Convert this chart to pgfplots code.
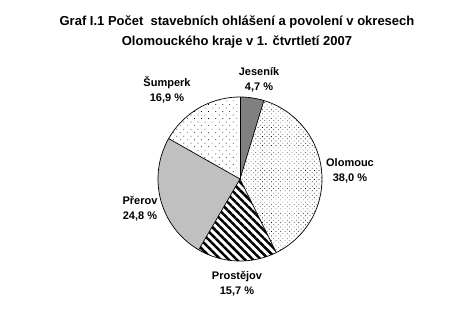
\documentclass[border=0pt]{standalone}
\usepackage{fontspec}
\setmainfont{Liberation Sans}
\usepackage{pgfplots}
\usepackage{pgfplotstable}
\pgfplotsset{compat=1.18}
\usetikzlibrary{patterns,patterns.meta}

\pgfplotstableread{
district pct
Jesenik 4.7
Olomouc 38.0
Prostejov 15.7
Prerov 24.8
Sumperk 16.9
}\piedata

\definecolor{darkg}{RGB}{128,128,128}
\definecolor{lightg}{RGB}{192,192,192}
\tikzset{lab/.style={align=center, font=\bfseries\fontsize{11}{15}\selectfont}}

\pgfplotstablegetelem{0}{pct}\of\piedata \global\let\pA\pgfplotsretval
\pgfplotstablegetelem{1}{pct}\of\piedata \global\let\pB\pgfplotsretval
\pgfplotstablegetelem{2}{pct}\of\piedata \global\let\pC\pgfplotsretval
\pgfplotstablegetelem{3}{pct}\of\piedata \global\let\pD\pgfplotsretval
\pgfplotstablegetelem{4}{pct}\of\piedata \global\let\pE\pgfplotsretval
\pgfmathsetmacro\aA{90}
\pgfmathsetmacro\aB{\aA-3.6*\pA}
\pgfmathsetmacro\aC{\aB-3.6*\pB}
\pgfmathsetmacro\aD{\aC-3.6*\pC}
\pgfmathsetmacro\aE{\aD-3.6*\pD}
\pgfmathsetmacro\aF{\aE-3.6*\pE}

\begin{document}
\begin{tikzpicture}
\begin{axis}[
  hide axis, scale only axis,
  width=473pt, height=313pt,
  xmin=0, xmax=473, ymin=0, ymax=313,
  clip=false,
]
\path[fill=white] (rel axis cs:0,0) rectangle (rel axis cs:1,1);
% slices
\fill[darkg] (axis cs:240,134) -- ++(\aA:82pt) arc[start angle=\aA, end angle=\aB, radius=82pt] -- cycle;
\fill[pattern={Dots[distance=3.2pt, angle=45, radius=0.45pt]}] (axis cs:240,134) -- ++(\aB:82pt) arc[start angle=\aB, end angle=\aC, radius=82pt] -- cycle;
\fill[pattern={Lines[angle=-45, distance=5.7pt, line width=2.5pt]}] (axis cs:240,134) -- ++(\aC:82pt) arc[start angle=\aC, end angle=\aD, radius=82pt] -- cycle;
\fill[lightg] (axis cs:240,134) -- ++(\aD:82pt) arc[start angle=\aD, end angle=\aE, radius=82pt] -- cycle;
\fill[pattern={Dots[distance=5pt, angle=45, radius=0.5pt]}] (axis cs:240,134) -- ++(\aE:82pt) arc[start angle=\aE, end angle=\aF, radius=82pt] -- cycle;
% outlines
\draw[black, line width=0.7pt] (axis cs:240,134) -- ++(\aA:82pt);
\draw[black, line width=0.7pt] (axis cs:240,134) -- ++(\aB:82pt);
\draw[black, line width=0.7pt] (axis cs:240,134) -- ++(\aC:82pt);
\draw[black, line width=0.7pt] (axis cs:240,134) -- ++(\aD:82pt);
\draw[black, line width=0.7pt] (axis cs:240,134) -- ++(\aE:82pt);
\draw[black, line width=0.7pt] (axis cs:240,134) circle[radius=82pt];
% labels
\node[lab] at (axis cs:259,233.5) {Jeseník\\4,7 \%};
\node[lab] at (axis cs:350,142.5) {Olomouc\\38,0 \%};
\node[lab] at (axis cs:237,29.5) {Prostějov\\15,7 \%};
\node[lab] at (axis cs:140,104.5) {Přerov\\24,8 \%};
\node[lab] at (axis cs:167,223) {Šumperk\\16,9 \%};
\node[align=center, font=\bfseries\fontsize{13}{19.5}\selectfont] at (axis cs:237,281)
  {Graf I.1 Počet\ \ stavebních ohlášení a povolení v okresech\\Olomouckého kraje v 1. čtvrtletí 2007};
\end{axis}
\end{tikzpicture}
\end{document}
